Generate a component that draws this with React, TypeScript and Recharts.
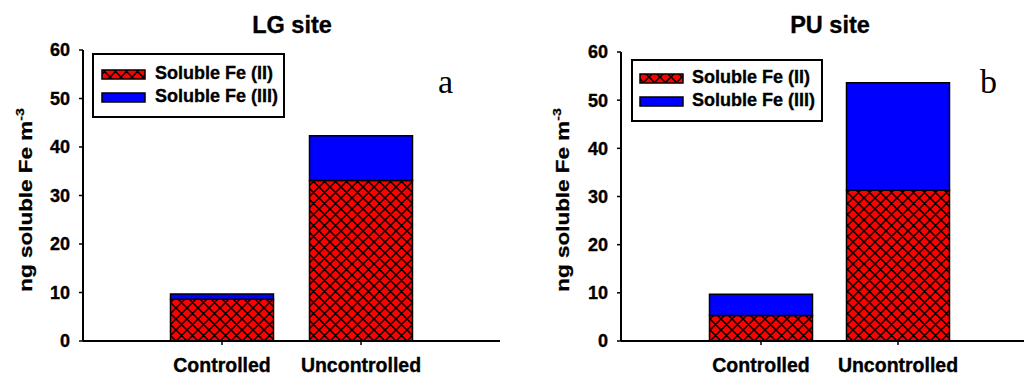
import React from 'react';
import { BarChart, Bar, XAxis, YAxis } from 'recharts';

const categories = ['Controlled', 'Uncontrolled'];
const lgFe2 = [8.6, 33.1];
const lgFe3 = [1.1, 9.2];
const puFe2 = [5.3, 31.3];
const puFe3 = [4.4, 22.3];
const yTicks = [0, 10, 20, 30, 40, 50, 60];
const seriesNames = ['Soluble Fe (II)', 'Soluble Fe (III)'];
const panelTitles = ['LG site', 'PU site'];
const panelLetters = ['a', 'b'];
const yLabel = 'ng soluble Fe m';
const yLabelSup = '-3';

const FONT = '"Liberation Sans", Arial, sans-serif';
const SERIF = '"Liberation Serif", "Times New Roman", serif';
const RED = '#ff0000';
const BLUE = '#0000ff';

const lgData = categories.map((c, i) => ({ name: c, fe2: lgFe2[i], fe3: lgFe3[i] }));
const puData = categories.map((c, i) => ({ name: c, fe2: puFe2[i], fe3: puFe3[i] }));

const heavy = { stroke: '#000', strokeWidth: 0.35 };

type PanelProps = {
  data: { name: string; fe2: number; fe3: number }[];
  margin: { top: number; right: number; bottom: number; left: number };
  padding: { left: number; right: number };
};

const Panel = ({ data, margin, padding }: PanelProps) => (
  <BarChart width={512} height={376} data={data} margin={margin} barSize={103}>
    <XAxis
      dataKey="name"
      height={30}
      padding={padding}
      axisLine={{ stroke: '#000', strokeWidth: 2 }}
      tickLine={{ stroke: '#000', strokeWidth: 1.5 }}
      tickSize={4}
      tickMargin={13}
      tick={{ fill: '#000', fontSize: 19.5, fontWeight: 'bold', fontFamily: FONT, ...heavy }}
    />
    <YAxis
      width={60}
      domain={[0, 60]}
      ticks={yTicks}
      interval={0}
      axisLine={{ stroke: '#000', strokeWidth: 2 }}
      tickLine={{ stroke: '#000', strokeWidth: 1.5 }}
      tickSize={4}
      tickMargin={9}
      tick={{ fill: '#000', fontSize: 18, fontWeight: 'bold', fontFamily: FONT, ...heavy }}
    />
    <Bar dataKey="fe2" name={seriesNames[0]} stackId="a" fill="url(#hatch)" stroke="#000" strokeWidth={1.5} isAnimationActive={false} />
    <Bar dataKey="fe3" name={seriesNames[1]} stackId="a" fill={BLUE} stroke="#000" strokeWidth={1.5} isAnimationActive={false} />
  </BarChart>
);

const LegendBox = ({ x, y, w, h, sx, tx, rows }: { x: number; y: number; w: number; h: number; sx: number; tx: number; rows: number[] }) => (
  <g>
    <rect x={x} y={y} width={w} height={h} fill="#fff" stroke="#000" strokeWidth={2} />
    {seriesNames.map((n, i) => (
      <g key={n}>
        <rect x={sx} y={rows[i] - 9} width={43} height={9} fill={i === 0 ? 'url(#hatch)' : BLUE} stroke="#000" strokeWidth={1.5} />
        <text x={tx} y={rows[i]} fontSize={18} fontWeight="bold" fontFamily={FONT} fill="#000" {...heavy}>{n}</text>
      </g>
    ))}
  </g>
);

const YLabel = ({ x, y }: { x: number; y: number }) => (
  <text transform={`translate(${x},${y}) rotate(-90) scale(1,0.82)`} textAnchor="middle" fontSize={22.5} fontWeight="bold" fontFamily={FONT} fill="#000" {...heavy}>
    {yLabel}
    <tspan dy={-10} fontSize={14}>{yLabelSup}</tspan>
  </text>
);

export default function App() {
  return (
    <div style={{ position: 'absolute', left: 0, top: 0, width: 1024, height: 376, background: '#fff', overflow: 'hidden' }}>
      <div style={{ position: 'absolute', left: 0, top: 0 }}>
        <Panel data={lgData} margin={{ top: 50, right: 12, bottom: 5, left: 23 }} padding={{ left: 69.5, right: 69.5 }} />
      </div>
      <div style={{ position: 'absolute', left: 512, top: 0 }}>
        <Panel data={puData} margin={{ top: 52, right: 0, bottom: 5, left: 49 }} padding={{ left: 71.5, right: 57.5 }} />
      </div>
      <svg width={1024} height={376} style={{ position: 'absolute', left: 0, top: 0, pointerEvents: 'none' }}>
        <defs>
          <pattern id="hatch" patternUnits="userSpaceOnUse" width={11} height={11}>
            <rect x={0} y={0} width={11} height={11} fill={RED} />
            <path d="M0,0 L11,11 M11,0 L0,11 M-1,10 L1,12 M10,-1 L12,1 M-1,1 L1,-1 M10,12 L12,10" stroke="#000" strokeWidth={1.5} />
          </pattern>
        </defs>
        <text x={292} y={33} textAnchor="middle" fontSize={23.5} fontWeight="bold" fontFamily={FONT} fill="#000" {...heavy}>{panelTitles[0]}</text>
        <text x={830} y={33} textAnchor="middle" fontSize={23.5} fontWeight="bold" fontFamily={FONT} fill="#000" {...heavy}>{panelTitles[1]}</text>
        <text x={438} y={93} fontSize={34} fontFamily={SERIF} fill="#000">{panelLetters[0]}</text>
        <text x={980} y={93} fontSize={34} fontFamily={SERIF} fill="#000">{panelLetters[1]}</text>
        <YLabel x={32} y={200} />
        <YLabel x={569} y={200} />
        <LegendBox x={93} y={54} w={191} h={63} sx={102} tx={155} rows={[79, 102]} />
        <LegendBox x={632} y={60} w={190} h={61} sx={640} tx={692} rows={[83, 106]} />
      </svg>
    </div>
  );
}
